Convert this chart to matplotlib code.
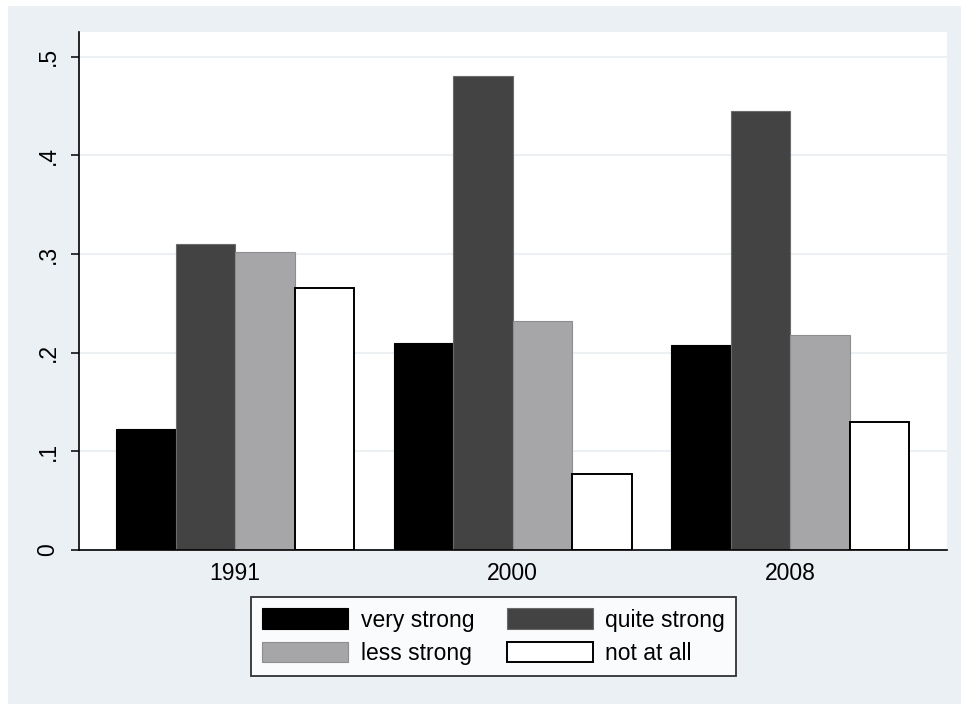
import matplotlib
matplotlib.use("Agg")
import matplotlib.pyplot as plt
import numpy as np
from matplotlib.patches import Rectangle
from matplotlib.ticker import FuncFormatter

years = ["1991", "2000", "2008"]
series_names = ["very strong", "quite strong", "less strong", "not at all"]
very_strong = [0.123, 0.210, 0.208]
quite_strong = [0.310, 0.480, 0.445]
less_strong = [0.302, 0.232, 0.218]
not_at_all = [0.266, 0.077, 0.130]
yticks = [0, 0.1, 0.2, 0.3, 0.4, 0.5]

plt.rcParams['font.family'] = ['Liberation Sans', 'DejaVu Sans']

BG = "#EBF0F5"
fig = plt.figure(figsize=(9.62, 7.04), dpi=100, facecolor="white")
fig.patches.append(Rectangle((8/962, 0), 1, 1 - 6/704, transform=fig.transFigure,
                             facecolor=BG, edgecolor="none", zorder=-10))

ax = fig.add_axes([79/962, 1 - 550/704, (947-79)/962, (550-32)/704])
ax.set_facecolor("white")

x = np.arange(len(years))
w = 0.2144
series = [very_strong, quite_strong, less_strong, not_at_all]
fills = ["#000000", "#434343", "#A6A5A7", "#FFFFFF"]
edges = ["#000000", "#6A6A6A", "#8E8D8F", "#000000"]
lws = [0.8, 0.8, 0.8, 1.4]
offs = [-1.5, -0.5, 0.5, 1.5]
handles = []
for vals, fc, ec, lw, o, nm in zip(series, fills, edges, lws, offs, series_names):
    b = ax.bar(x + o*w, vals, width=w, color=fc, edgecolor=ec, linewidth=lw, label=nm, zorder=3)
    handles.append(b)

ax.set_xlim(-0.563, 2.565)
ax.set_ylim(0, 0.525)
ax.set_yticks(yticks)
ax.yaxis.set_major_formatter(FuncFormatter(lambda v, p: "0" if abs(v) < 1e-9 else ("%.1f" % v).lstrip("0")))
ax.set_xticks(x)
ax.set_xticklabels(years)
ax.tick_params(axis='x', length=0, pad=9, labelsize=16.5)
ax.tick_params(axis='y', length=6, width=1.1, pad=8, labelsize=16.5)
for lab in ax.get_yticklabels():
    lab.set_rotation(90)
    lab.set_va('center')

ax.grid(axis='y', color=BG, linewidth=1.5, zorder=0)
ax.set_axisbelow(True)
for s in ["top", "right"]:
    ax.spines[s].set_visible(False)
for s in ["left", "bottom"]:
    ax.spines[s].set_linewidth(1.2)
    ax.spines[s].set_color("black")
    ax.spines[s].set_zorder(5)

# row-major order in a 2-column legend
order = [0, 2, 1, 3]
leg = fig.legend(handles=[handles[i] for i in order],
                 labels=[series_names[i] for i in order], ncol=2,
                 loc="upper left", bbox_to_anchor=(251/962, 1 - 597/704),
                 bbox_transform=fig.transFigure, borderaxespad=0,
                 fontsize=16.5, frameon=True, fancybox=False,
                 handlelength=3.75, handleheight=1.0, handletextpad=0.55,
                 columnspacing=1.4, labelspacing=0.45, borderpad=0.5)
leg.get_frame().set_edgecolor("black")
leg.get_frame().set_linewidth(1.3)
leg.get_frame().set_facecolor("white")

fig.savefig("out.png", dpi=100, facecolor=fig.get_facecolor())
